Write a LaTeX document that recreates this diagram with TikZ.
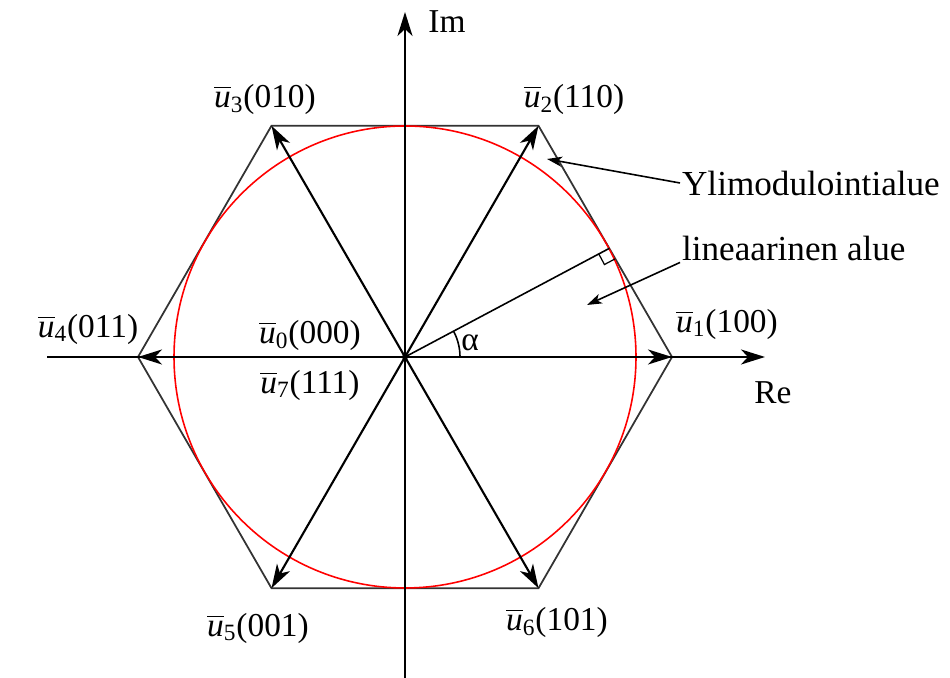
\documentclass[tikz,border=0pt]{standalone}
\usepackage{amsmath}
\usepackage{fontspec}
\setmainfont{Liberation Serif}
\usetikzlibrary{arrows.meta}

\tikzset{
  vec/.style={line width=1.2pt, -{Stealth[length=4.8mm,width=3mm,inset=1.4mm]}},
  axis/.style={line width=1.3pt, -{Stealth[length=4.8mm,width=3mm,inset=1.4mm]}},
  hexa/.style={line width=1pt, black!80},
  pointer/.style={line width=0.9pt, -{Stealth[length=3mm,width=2mm,inset=0.8mm]}},
  lbl/.style={font=\fontsize{19}{22}\selectfont, inner sep=1pt},
}
\newcommand{\uvec}[2]{$\overline{\textit{u}}_{\text{#1}}$(#2)}

\begin{document}
\begin{tikzpicture}[x=0.02cm, y=0.02cm]
\useasboundingbox (0,0) rectangle (950,678);
\coordinate (O) at (405,321);
\foreach \i in {1,...,6}
  \path (O) ++({(\i-1)*60}:267) coordinate (v\i);

% hexagon and circle
\draw[hexa] (v1) -- (v2) -- (v3) -- (v4) -- (v5) -- (v6) -- cycle;
\draw[red, line width=0.9pt] (O) circle (231);

% axes
\coordinate (reL) at (47,321);
\coordinate (reR) at (765,321);
\coordinate (imB) at (405,0);
\coordinate (imT) at (405,666);
\draw[axis] (reL) -- (reR);
\draw[axis] (imB) -- (imT);
\node[lbl] (re) at (773,285) {Re};
\node[lbl] (im) at (447,656) {Im};

% vectors
\foreach \i in {1,...,6}
  \draw[vec] (O) -- (v\i);
\fill (O) circle (3);

% angle alpha
\path (O) ++(28:231.5) coordinate (T);
\draw[line width=0.9pt] (O) -- (T);
\draw[line width=0.7pt] (T) ++(208:12) -- ++(-62:12) -- ++(28:12);
\draw[line width=0.9pt] (O) ++(55,0) arc (0:28:55);
\node[lbl] (alpha) at (470,335) {α};

% vector labels
\node[lbl] (u1) at (727,354) {\uvec{1}{100}};
\node[lbl] (u2) at (574,579) {\uvec{2}{110}};
\node[lbl] (u3) at (265,579) {\uvec{3}{010}};
\node[lbl] (u4) at (88,349) {\uvec{4}{011}};
\node[lbl] (u0) at (310,343) {\uvec{0}{000}};
\node[lbl] (u7) at (310,293) {\uvec{7}{111}};
\node[lbl] (u5) at (258,50) {\uvec{5}{001}};
\node[lbl] (u6) at (557,56) {\uvec{6}{101}};

% region labels
\node[lbl, anchor=west, font=\fontsize{20}{24}\selectfont] (ylim) at (680,495) {Ylimodulointialue};
\node[lbl, anchor=west, font=\fontsize{20}{24}\selectfont] (lin) at (680,430) {lineaarinen alue};
\coordinate (ylimTip) at (547,519);
\coordinate (linTip) at (587,373);
\draw[pointer] (ylim.west) -- (ylimTip);
\draw[pointer] (lin.south west) -- (linTip);
\end{tikzpicture}
\end{document}
